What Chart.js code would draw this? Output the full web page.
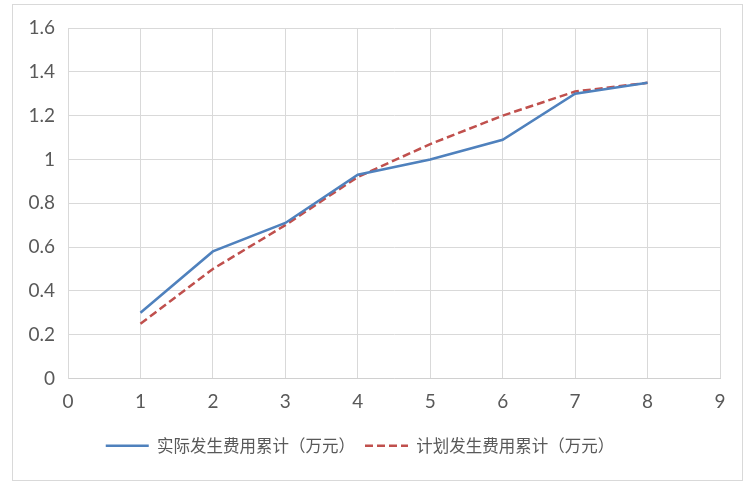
<!DOCTYPE html>
<html>
<head>
<meta charset="utf-8">
<script src="https://cdn.jsdelivr.net/npm/chart.js@4/dist/chart.umd.min.js"></script>
<style>
  html, body { margin: 0; padding: 0; background: #fff; }
  #wrap { position: relative; width: 756px; height: 486px; }
  #frame { position: absolute; left: 12px; top: 4px; width: 729px; height: 475px; border: 1px solid #d9d9d9; }
  canvas { position: absolute; left: 0; top: 0; }
</style>
</head>
<body>
<div id="wrap">
  <div id="frame"></div>
  <canvas id="myChart" width="756" height="486"></canvas>
</div>
<script>
// 横轴（期数）
const periods = [1, 2, 3, 4, 5, 6, 7, 8];
// 实际发生费用累计（万元）
const actualCost = [0.30, 0.58, 0.71, 0.93, 1.00, 1.09, 1.30, 1.35];
// 计划发生费用累计（万元）
const plannedCost = [0.25, 0.50, 0.70, 0.92, 1.07, 1.20, 1.31, 1.35];

const seriesNames = ['实际发生费用累计（万元）', '计划发生费用累计（万元）'];

const toXY = (ys) => periods.map((x, i) => ({ x: x, y: ys[i] }));

const tickFont = { family: 'Lato, "Noto Sans", sans-serif', size: 19 };
const gridColor = '#d9d9d9';

const config = {
    type: 'line',
    data: {
        datasets: [
            {
                label: seriesNames[0],
                data: toXY(actualCost),
                borderColor: '#4f81bd',
                backgroundColor: '#4f81bd',
                borderWidth: 2.5,
                pointRadius: 0,
                fill: false,
                tension: 0,
            },
            {
                label: seriesNames[1],
                data: toXY(plannedCost),
                borderColor: '#c0504d',
                backgroundColor: '#c0504d',
                borderWidth: 2.5,
                borderDash: [8, 4],
                pointRadius: 0,
                fill: false,
                tension: 0,
            }
        ]
    },
    options: {
        responsive: false,
        animation: false,
        layout: {
            padding: { left: 0, right: 36, top: 28, bottom: 22 }
        },
        scales: {
            x: {
                type: 'linear',
                min: 0,
                max: 9,
                ticks: { stepSize: 1, color: '#595959', font: tickFont, padding: 12 },
                grid: { color: gridColor, drawTicks: false },
                border: { color: '#d0d0d0' },
                afterFit: (scale) => { scale.height = 49; }
            },
            y: {
                min: 0,
                max: 1.6,
                ticks: {
                    stepSize: 0.2,
                    color: '#595959',
                    font: tickFont,
                    padding: 13,
                    callback: (v) => String(Math.round(v * 10) / 10)
                },
                grid: { color: gridColor, drawTicks: false },
                border: { color: gridColor },
                afterFit: (scale) => { scale.width = 68; }
            }
        },
        plugins: {
            legend: {
                position: 'bottom',
                labels: {
                    color: '#595959',
                    font: { family: '"Noto Sans CJK SC", sans-serif', size: 16.5 },
                    usePointStyle: true,
                    pointStyle: 'line',
                    pointStyleWidth: 43,
                    boxHeight: 10,
                    padding: 10,
                    // 图例线型跟随数据集（虚线）
                    generateLabels: (chart) => {
                        const items = Chart.defaults.plugins.legend.labels.generateLabels(chart);
                        items.forEach((item) => {
                            const ds = chart.data.datasets[item.datasetIndex];
                            item.lineDash = ds.borderDash || [];
                            item.lineWidth = ds.borderWidth;
                            item.strokeStyle = ds.borderColor;
                        });
                        return items;
                    }
                }
            },
            tooltip: { enabled: false }
        }
    }
};

new Chart(document.getElementById('myChart'), config);
</script>
</body>
</html>
